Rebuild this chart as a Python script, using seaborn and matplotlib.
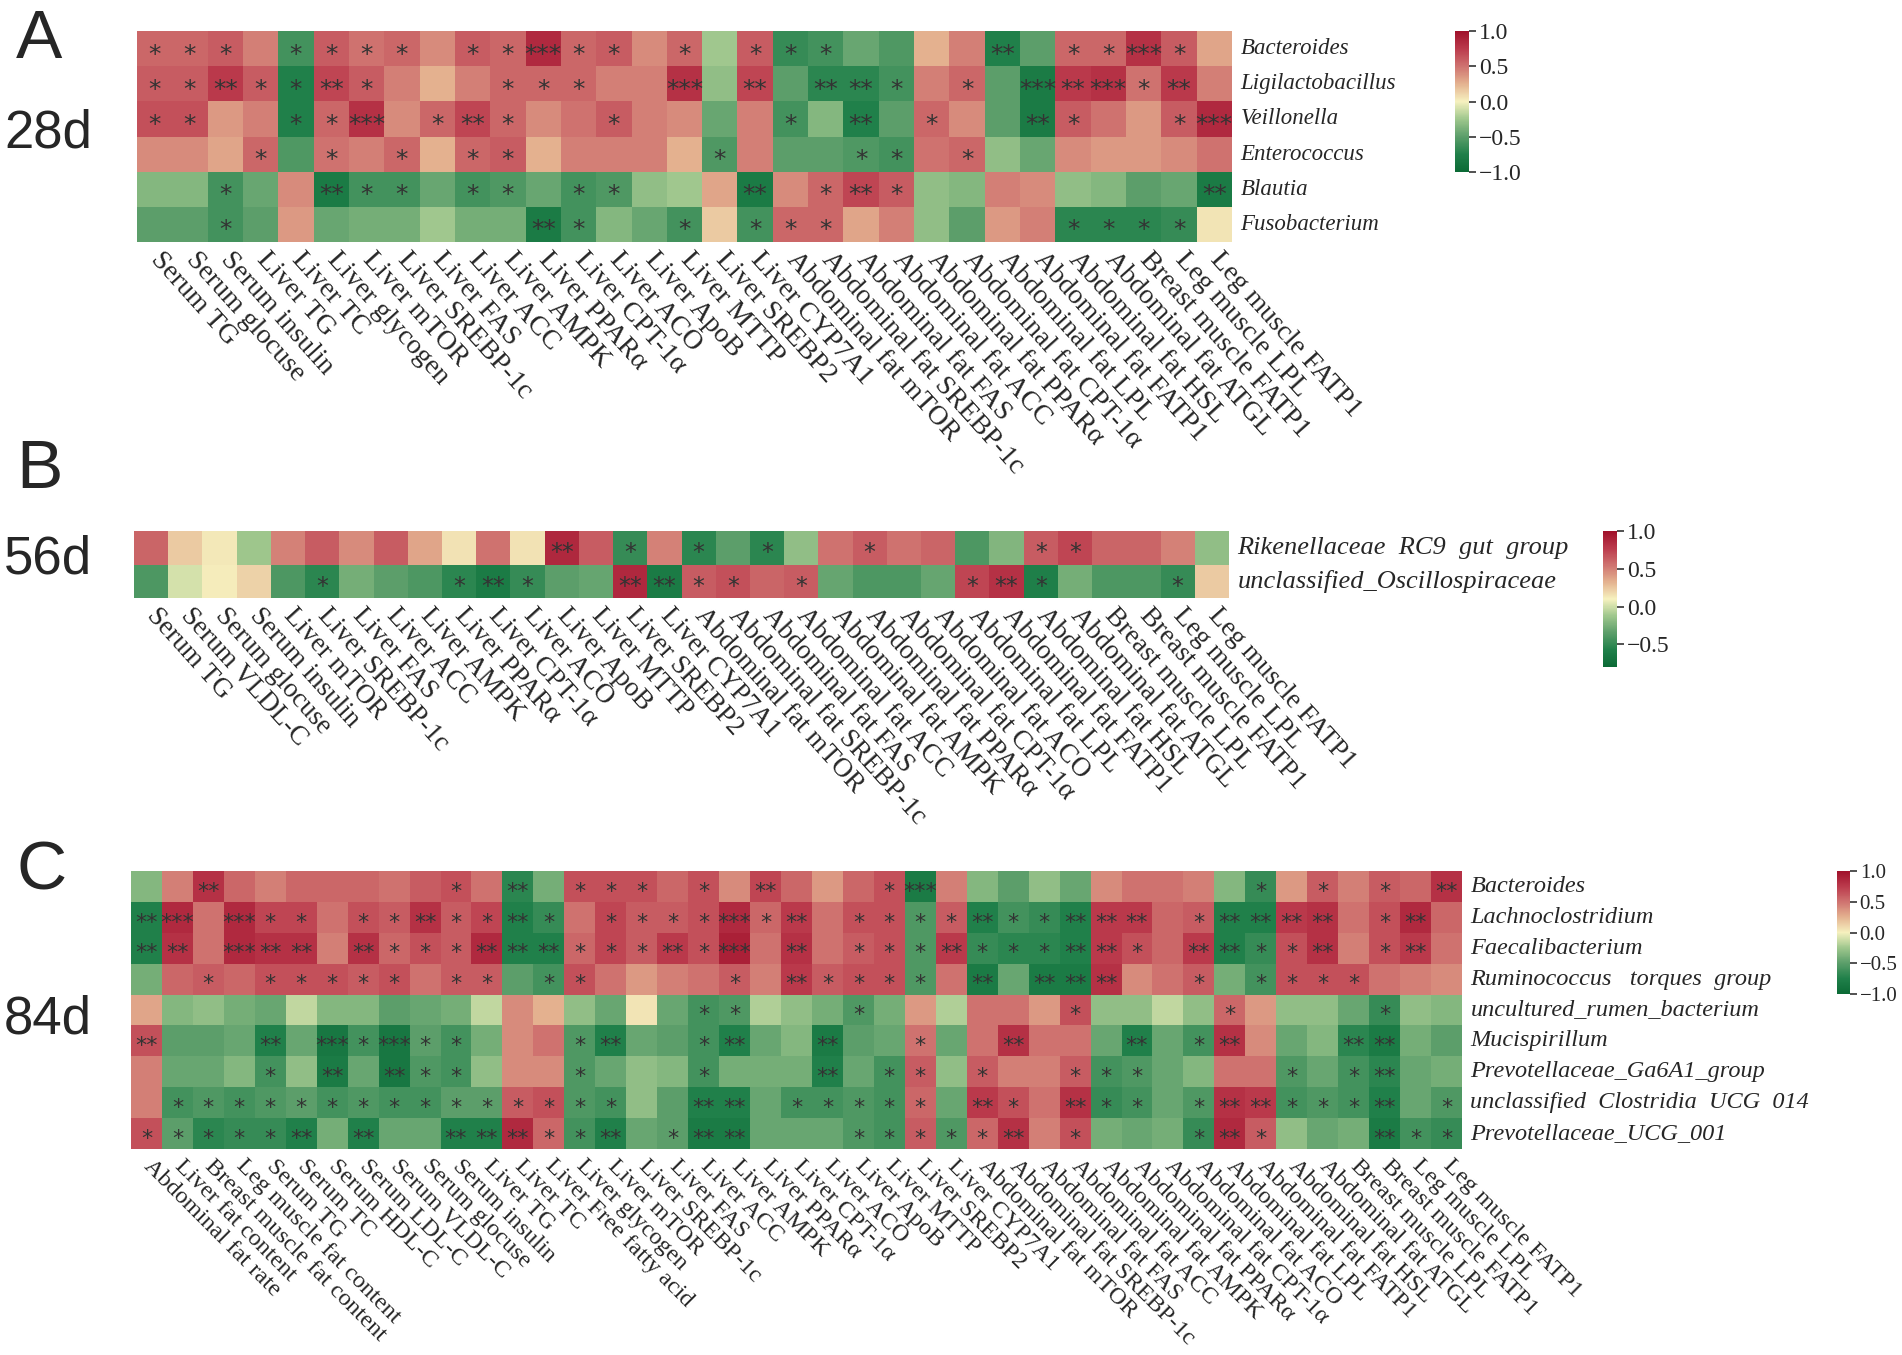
import numpy as np
import pandas as pd
import matplotlib
matplotlib.use("Agg")
import matplotlib.pyplot as plt
import seaborn as sns
from matplotlib.colors import LinearSegmentedColormap
from matplotlib.ticker import FixedLocator, FixedFormatter
from matplotlib.font_manager import FontProperties

# ---------------- data ----------------
a_rows = ["Bacteroides", "Ligilactobacillus", "Veillonella", "Enterococcus", "Blautia", "Fusobacterium"]
a_cols = ["Serum TG", "Serum glocuse", "Serum insulin", "Liver TG", "Liver TC", "Liver glycogen",
          "Liver mTOR", "Liver SREBP-1c", "Liver FAS", "Liver ACC", "Liver AMPK", "Liver PPARα",
          "Liver CPT-1α", "Liver ACO", "Liver ApoB", "Liver MTTP", "Liver SREBP2", "Liver CYP7A1",
          "Abdominal fat mTOR", "Abdominal fat SREBP-1c", "Abdominal fat FAS", "Abdominal fat ACC",
          "Abdominal fat PPARα", "Abdominal fat CPT-1α", "Abdominal fat LPL", "Abdominal fat FATP1",
          "Abdominal fat HSL", "Abdominal fat ATGL", "Breast muscle FATP1", "Leg muscle LPL",
          "Leg muscle FATP1"]
a_bacteroides = [0.55,0.55,0.6,0.45,-0.6,0.6,0.5,0.55,0.4,0.6,0.55,0.85,0.55,0.6,0.4,0.55,-0.25,0.6,-0.65,-0.6,-0.45,-0.55,0.25,0.45,-0.75,-0.5,0.55,0.55,0.8,0.6,0.3]
a_ligilacto = [0.6,0.6,0.75,0.6,-0.75,0.7,0.6,0.45,0.25,0.45,0.55,0.55,0.55,0.45,0.45,0.8,-0.3,0.7,-0.5,-0.7,-0.7,-0.6,0.45,0.55,-0.5,-0.8,0.75,0.8,0.5,0.75,0.45]
a_veillonella = [0.65,0.65,0.35,0.45,-0.75,0.55,0.8,0.4,0.55,0.7,0.55,0.4,0.5,0.6,0.45,0.4,-0.45,0.45,-0.6,-0.35,-0.75,-0.5,0.55,0.4,-0.5,-0.8,0.6,0.5,0.35,0.6,0.85]
a_enterococcus = [0.4,0.4,0.3,0.55,-0.55,0.5,0.45,0.55,0.25,0.55,0.6,0.25,0.45,0.45,0.45,0.25,-0.55,0.45,-0.5,-0.5,-0.55,-0.6,0.5,0.55,-0.3,-0.45,0.4,0.35,0.35,0.4,0.5]
a_blautia = [-0.35,-0.35,-0.6,-0.45,0.4,-0.8,-0.6,-0.6,-0.45,-0.6,-0.55,-0.45,-0.6,-0.55,-0.3,-0.25,0.3,-0.8,0.4,0.55,0.7,0.6,-0.3,-0.35,0.45,0.4,-0.3,-0.35,-0.5,-0.45,-0.8]
a_fusobacterium = [-0.5,-0.5,-0.6,-0.5,0.35,-0.45,-0.4,-0.4,-0.25,-0.4,-0.4,-0.8,-0.6,-0.35,-0.45,-0.6,0.15,-0.6,0.55,0.55,0.3,0.45,-0.3,-0.5,0.35,0.45,-0.7,-0.7,-0.7,-0.65,0.05]
a_sig_bacteroides = [1,1,1,0,1,1,1,1,0,1,1,3,1,1,0,1,0,1,1,1,0,0,0,0,2,0,1,1,3,1,0]
a_sig_ligilacto = [1,1,2,1,1,2,1,0,0,0,1,1,1,0,0,3,0,2,0,2,2,1,0,1,0,3,2,3,1,2,0]
a_sig_veillonella = [1,1,0,0,1,1,3,0,1,2,1,0,0,1,0,0,0,0,1,0,2,0,1,0,0,2,1,0,0,1,3]
a_sig_enterococcus = [0,0,0,1,0,1,0,1,0,1,1,0,0,0,0,0,1,0,0,0,1,1,0,1,0,0,0,0,0,0,0]
a_sig_blautia = [0,0,1,0,0,2,1,1,0,1,1,0,1,1,0,0,0,2,0,1,2,1,0,0,0,0,0,0,0,0,2]
a_sig_fusobacterium = [0,0,1,0,0,0,0,0,0,0,0,2,1,0,0,1,0,1,1,1,0,0,0,0,0,0,1,1,1,1,0]

b_rows = ["Rikenellaceae  RC9  gut  group", "unclassified_Oscillospiraceae"]
b_cols = ["Serum TG", "Serum VLDL-C", "Serum glocuse", "Serum insulin", "Liver mTOR", "Liver SREBP-1c",
          "Liver FAS", "Liver ACC", "Liver AMPK", "Liver PPARα", "Liver CPT-1α", "Liver ACO",
          "Liver ApoB", "Liver MTTP", "Liver SREBP2", "Liver CYP7A1", "Abdominal fat mTOR",
          "Abdominal fat SREBP-1c", "Abdominal fat FAS", "Abdominal fat ACC", "Abdominal fat AMPK",
          "Abdominal fat PPARα", "Abdominal fat CPT-1α", "Abdominal fat ACO", "Abdominal fat LPL",
          "Abdominal fat FATP1", "Abdominal fat HSL", "Abdominal fat ATGL", "Breast muscle LPL",
          "Breast muscle FATP1", "Leg muscle LPL", "Leg muscle FATP1"]
b_rikenellaceae = [0.6,0.24,0.13,-0.13,0.5,0.64,0.46,0.64,0.37,0.15,0.55,0.15,0.87,0.64,-0.49,0.5,-0.53,-0.35,-0.53,-0.17,0.55,0.64,0.55,0.6,-0.4,-0.22,0.64,0.73,0.6,0.6,0.5,-0.17]
b_oscillospiraceae = [-0.4,0.01,0.12,0.21,-0.4,-0.53,-0.26,-0.35,-0.4,-0.53,-0.62,-0.49,-0.35,-0.31,0.87,-0.62,0.64,0.69,0.6,0.64,-0.31,-0.4,-0.4,-0.31,0.73,0.82,-0.58,-0.26,-0.4,-0.4,-0.49,0.24]
b_sig_rikenellaceae = [0,0,0,0,0,0,0,0,0,0,0,0,2,0,1,0,1,0,1,0,0,1,0,0,0,0,1,1,0,0,0,0]
b_sig_oscillospiraceae = [0,0,0,0,0,1,0,0,0,1,2,1,0,0,2,2,1,1,0,1,0,0,0,0,1,2,1,0,0,0,1,0]

c_rows = ["Bacteroides", "Lachnoclostridium", "Faecalibacterium", "Ruminococcus   torques  group",
          "uncultured_rumen_bacterium", "Mucispirillum", "Prevotellaceae_Ga6A1_group",
          "unclassified  Clostridia  UCG  014", "Prevotellaceae_UCG_001"]
c_cols = ["Abdominal fat rate", "Liver fat content", "Breast muscle fat content", "Leg muscle fat content",
          "Serum TG", "Serum TC", "Serum HDL-C", "Serum LDL-C", "Serum VLDL-C", "Serum glocuse",
          "Serum insulin", "Liver TG", "Liver TC", "Liver Free fatty acid", "Liver glycogen",
          "Liver mTOR", "Liver SREBP-1c", "Liver FAS", "Liver ACC", "Liver AMPK", "Liver PPARα",
          "Liver CPT-1α", "Liver ACO", "Liver ApoB", "Liver MTTP", "Liver SREBP2", "Liver CYP7A1",
          "Abdominal fat mTOR", "Abdominal fat SREBP-1c", "Abdominal fat FAS", "Abdominal fat ACC",
          "Abdominal fat AMPK", "Abdominal fat PPARα", "Abdominal fat CPT-1α", "Abdominal fat ACO",
          "Abdominal fat LPL", "Abdominal fat FATP1", "Abdominal fat HSL", "Abdominal fat ATGL",
          "Breast muscle LPL", "Breast muscle FATP1", "Leg muscle LPL", "Leg muscle FATP1"]
c_bacteroides = [-0.35,0.45,0.8,0.55,0.45,0.55,0.55,0.55,0.5,0.6, 0.65,0.5,-0.7,-0.4,0.65,0.65,0.65,0.55,0.65,0.4, 0.7,0.55,0.35,0.55,0.65,-0.8,0.45,-0.35,-0.5,-0.3, -0.45,0.4,0.5,0.5,0.45,-0.35,-0.65,0.35,0.6,0.45, 0.6,0.55,0.8]
c_lachno = [-0.75,0.85,0.5,0.85,0.7,0.7,0.5,0.65,0.6,0.8, 0.6,0.7,-0.75,-0.65,0.5,0.7,0.6,0.6,0.65,0.85, 0.55,0.75,0.5,0.65,0.65,-0.55,0.6,-0.75,-0.6,-0.65, -0.75,0.75,0.75,0.55,0.6,-0.75,-0.75,0.75,0.8,0.5, 0.65,0.85,0.55]
c_faecali = [-0.75,0.8,0.5,0.85,0.8,0.8,0.45,0.8,0.55,0.65, 0.6,0.85,-0.75,-0.75,0.55,0.7,0.6,0.75,0.65,0.9, 0.5,0.8,0.5,0.6,0.65,-0.55,0.75,-0.65,-0.7,-0.7, -0.75,0.75,0.65,0.55,0.75,-0.75,-0.65,0.65,0.8,0.45, 0.65,0.75,0.5]
c_rumino = [-0.4,0.55,0.6,0.55,0.65,0.65,0.65,0.6,0.65,0.5, 0.6,0.6,-0.5,-0.6,0.65,0.5,0.35,0.45,0.5,0.6, 0.45,0.75,0.6,0.65,0.65,-0.55,0.5,-0.8,-0.45,-0.8, -0.8,0.8,0.4,0.5,0.6,-0.4,-0.6,0.65,0.65,0.65, 0.5,0.45,0.4]
c_rumen = [0.3,-0.35,-0.3,-0.4,-0.45,-0.15,-0.35,-0.35,-0.5,-0.45, -0.4,-0.15,0.4,0.25,-0.3,-0.45,0.05,-0.45,-0.6,-0.55, -0.2,-0.3,-0.4,-0.55,-0.4,0.35,-0.2,0.5,0.5,0.35, 0.65,-0.3,-0.3,-0.15,-0.3,0.55,0.35,-0.3,-0.3,-0.45, -0.65,-0.3,-0.35]
c_mucispirillum = [0.65,-0.5,-0.5,-0.45,-0.75,-0.45,-0.85,-0.6,-0.85,-0.5, -0.6,-0.4,0.4,0.5,-0.55,-0.75,-0.45,-0.5,-0.6,-0.75, -0.45,-0.35,-0.8,-0.5,-0.45,0.5,-0.45,0.5,0.8,0.5, 0.5,-0.45,-0.75,-0.45,-0.6,0.8,0.4,-0.45,-0.35,-0.7, -0.8,-0.4,-0.5]
c_ga6a1 = [0.45,-0.45,-0.45,-0.35,-0.6,-0.3,-0.8,-0.45,-0.85,-0.55, -0.6,-0.3,0.4,0.4,-0.55,-0.45,-0.3,-0.35,-0.6,-0.4, -0.4,-0.4,-0.75,-0.45,-0.6,0.6,-0.3,0.6,0.45,0.45, 0.6,-0.6,-0.55,-0.45,-0.35,0.5,0.5,-0.55,-0.45,-0.6, -0.7,-0.45,-0.4]
c_ucg014 = [0.45,-0.6,-0.55,-0.6,-0.55,-0.5,-0.6,-0.55,-0.6,-0.6, -0.5,-0.5,0.6,0.65,-0.55,-0.6,-0.3,-0.5,-0.75,-0.75, -0.45,-0.6,-0.6,-0.55,-0.6,0.55,-0.45,0.75,0.65,0.5, 0.8,-0.65,-0.6,-0.45,-0.55,0.8,0.75,-0.6,-0.55,-0.6, -0.75,-0.45,-0.55]
c_ucg001 = [0.65,-0.5,-0.7,-0.65,-0.65,-0.75,-0.4,-0.75,-0.45,-0.45, -0.75,-0.75,0.85,0.55,-0.6,-0.75,-0.45,-0.5,-0.8,-0.8, -0.45,-0.45,-0.45,-0.55,-0.6,0.6,-0.55,0.55,0.8,0.45, 0.65,-0.4,-0.45,-0.4,-0.65,0.85,0.6,-0.3,-0.45,-0.4, -0.8,-0.6,-0.65]
c_sig_bacteroides = [0,0,2,0,0,0,0,0,0,0, 1,0,2,0,1,1,1,0,1,0, 2,0,0,0,1,3,0,0,0,0, 0,0,0,0,0,0,1,0,1,0, 1,0,2]
c_sig_lachno = [2,3,0,3,1,1,0,1,1,2, 1,1,2,1,0,1,1,1,1,3, 1,2,0,1,1,1,1,2,1,1, 2,2,2,0,1,2,2,2,2,0, 1,2,0]
c_sig_faecali = [2,2,0,3,2,2,0,2,1,1, 1,2,2,2,1,1,1,2,1,3, 0,2,0,1,1,1,2,1,1,1, 2,2,1,0,2,2,1,1,2,0, 1,2,0]
c_sig_rumino = [0,0,1,0,1,1,1,1,1,0, 1,1,0,1,1,0,0,0,0,1, 0,2,1,1,1,1,0,2,0,2, 2,2,0,0,1,0,1,1,1,1, 0,0,0]
c_sig_rumen = [0,0,0,0,0,0,0,0,0,0, 0,0,0,0,0,0,0,0,1,1, 0,0,0,1,0,0,0,0,0,0, 1,0,0,0,0,1,0,0,0,0, 1,0,0]
c_sig_mucispirillum = [2,0,0,0,2,0,3,1,3,1, 1,0,0,0,1,2,0,0,1,2, 0,0,2,0,0,1,0,0,2,0, 0,0,2,0,1,2,0,0,0,2, 2,0,0]
c_sig_ga6a1 = [0,0,0,0,1,0,2,0,2,1, 1,0,0,0,1,0,0,0,1,0, 0,0,2,0,1,1,0,1,0,0, 1,1,1,0,0,0,0,1,0,1, 2,0,0]
c_sig_ucg014 = [0,1,1,1,1,1,1,1,1,1, 1,1,1,1,1,1,0,0,2,2, 0,1,1,1,1,1,0,2,1,0, 2,1,1,0,1,2,2,1,1,1, 2,0,1]
c_sig_ucg001 = [1,1,1,1,1,2,0,2,0,0, 2,2,2,1,1,2,0,1,2,2, 0,0,0,1,1,1,1,1,2,0, 1,0,0,0,1,2,1,0,0,0, 2,1,1]

cb_ticks_ac = [1.0, 0.5, 0.0, -0.5, -1.0]
cb_ticks_b = [1.0, 0.5, 0.0, -0.5]

# ---------------- style ----------------
sns.set_theme(style="white")
SERIF = "Liberation Serif"
SANS = "Liberation Sans"
plt.rcParams["font.family"] = [SERIF, "DejaVu Serif"]
plt.rcParams["axes.unicode_minus"] = True

cmap = LinearSegmentedColormap.from_list(
    "gy_r",
    [(0.0, "#0b6a35"), (0.125, "#20804a"), (0.25, "#5b9e6a"), (0.375, "#9fc78d"),
     (0.5, "#f6f1bf"), (0.625, "#e4b290"), (0.75, "#cf7370"), (0.875, "#bb3a4c"),
     (1.0, "#a0112b")])

W, H = 1902, 1355
fig = plt.figure(figsize=(W / 100, H / 100), dpi=100)
fig.patch.set_facecolor("white")


def box(x0, y0, x1, y1):
    return [x0 / W, 1 - y1 / H, (x1 - x0) / W, (y1 - y0) / H]


def panel(rows, cols, vals, sigs, hm, cb, vmin, vmax, ticks, xl_size, yl_size,
          cb_size, star_size, rot):
    df = pd.DataFrame(vals, index=rows, columns=cols)
    annot = np.array([["*" * s for s in r] for r in sigs], dtype=object)
    ax = fig.add_axes(box(*hm))
    cax = fig.add_axes(box(*cb))
    sns.heatmap(df, ax=ax, cbar_ax=cax, cmap=cmap, vmin=vmin, vmax=vmax,
                annot=annot, fmt="", linewidths=0,
                annot_kws=dict(size=star_size, color="#333333",
                               fontfamily="DejaVu Sans"),
                cbar_kws=dict(ticks=ticks), xticklabels=True, yticklabels=True)
    for t in ax.texts:
        x, y = t.get_position()
        t.set_position((x, y + 0.17))
        t.set_fontsize(star_size)
    ax.yaxis.tick_right()
    ax.tick_params(axis="both", length=0, pad=6)
    ax.set_yticklabels(rows, rotation=0, fontsize=yl_size, style="italic",
                       ha="left", va="center", fontfamily=SERIF)
    ax.set_xticklabels(cols, rotation=rot, fontsize=xl_size, ha="left",
                       va="center", rotation_mode="anchor", fontfamily=SERIF)
    ax.tick_params(axis="x", pad=10)
    ax.set_xlabel("")
    ax.set_ylabel("")
    cbar = ax.collections[0].colorbar
    cbar.outline.set_visible(False)
    cbar.set_ticks(ticks)
    fp = FontProperties(family=SERIF, size=cb_size)
    cbar.set_ticklabels([f"{t:.1f}".replace("-", "\u2212") for t in ticks],
                        fontproperties=fp)
    cax.tick_params(axis="y", length=5, width=1.2, color="#333333", pad=2,
                    right=True, labelfontfamily=SERIF, labelsize=cb_size)
    for lbl in cax.get_yticklabels(which="both"):
        lbl.set_fontproperties(fp)
    return ax


panel(a_rows, a_cols,
      [a_bacteroides, a_ligilacto, a_veillonella, a_enterococcus, a_blautia, a_fusobacterium],
      [a_sig_bacteroides, a_sig_ligilacto, a_sig_veillonella, a_sig_enterococcus,
       a_sig_blautia, a_sig_fusobacterium],
      (137, 31, 1232, 242), (1455, 31, 1469, 172), -1, 1, cb_ticks_ac,
      20, 16.5, 17, 18, -48)

panel(b_rows, b_cols, [b_rikenellaceae, b_oscillospiraceae],
      [b_sig_rikenellaceae, b_sig_oscillospiraceae],
      (134, 531, 1229, 598), (1603, 531, 1617, 667), -0.8, 1, cb_ticks_b,
      19.5, 19, 17, 17, -48)

panel(c_rows, c_cols,
      [c_bacteroides, c_lachno, c_faecali, c_rumino, c_rumen, c_mucispirillum, c_ga6a1,
       c_ucg014, c_ucg001],
      [c_sig_bacteroides, c_sig_lachno, c_sig_faecali, c_sig_rumino, c_sig_rumen,
       c_sig_mucispirillum, c_sig_ga6a1, c_sig_ucg014, c_sig_ucg001],
      (131, 871, 1462, 1149), (1837, 871, 1850, 994), -1, 1, cb_ticks_ac,
      17.5, 17.5, 15, 16, -45)

for letter, yb in [("A", 58), ("B", 488), ("C", 890)]:
    fig.text(16 / W, 1 - yb / H, letter, fontfamily=SANS, fontsize=50, ha="left", va="baseline")
for lab, yb in [("28d", 148), ("56d", 574), ("84d", 1033)]:
    fig.text(4 / W, 1 - yb / H, lab, fontfamily=SANS, fontsize=38, ha="left", va="baseline")

fig.savefig("out.png", dpi=100, facecolor="white")
